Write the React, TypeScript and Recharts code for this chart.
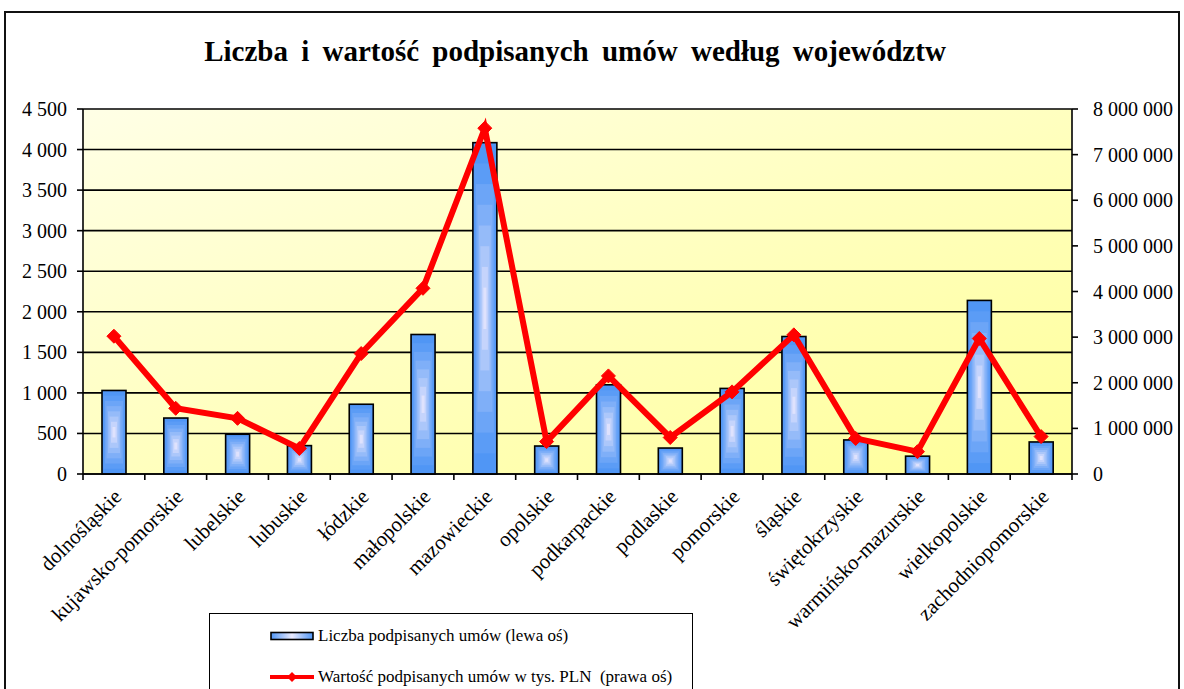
import React from 'react';
import { ComposedChart, Bar, Line, XAxis, YAxis, CartesianGrid } from 'recharts';

const categories = [
  'dolnośląskie', 'kujawsko-pomorskie', 'lubelskie', 'lubuskie', 'łódzkie', 'małopolskie',
  'mazowieckie', 'opolskie', 'podkarpackie', 'podlaskie', 'pomorskie', 'śląskie',
  'świętokrzyskie', 'warmińsko-mazurskie', 'wielkopolskie', 'zachodniopomorskie',
];
const contractCounts = [1030, 690, 490, 350, 860, 1720, 4085, 345, 1100, 320, 1055, 1695, 420, 220, 2140, 395];
const contractValues = [3020000, 1440000, 1220000, 560000, 2640000, 4070000, 7580000, 710000, 2150000, 800000, 1800000, 3050000, 780000, 490000, 2970000, 820000];
const leftTicks = [0, 500, 1000, 1500, 2000, 2500, 3000, 3500, 4000, 4500];
const rightTicks = [0, 1000000, 2000000, 3000000, 4000000, 5000000, 6000000, 7000000, 8000000];

const title = 'Liczba i wartość podpisanych umów według województw';
const legendCount = 'Liczba podpisanych umów (lewa oś)';
const legendValue = 'Wartość podpisanych umów w tys. PLN  (prawa oś)';

const data = categories.map((name, i) => ({ name, count: contractCounts[i], value: contractValues[i] }));

const FONT = 'Liberation Serif, Times New Roman, serif';

const fmt = (v: number) => String(v).replace(/\B(?=(\d{3})+(?!\d))/g, ' ');

const OUTER = [80, 150, 245];
const INNER = [250, 240, 255];
const STEPS = 8;

const GradientBar = (props: any) => {
  const { x, y, width, height } = props;
  if (!(height > 0)) return null;
  const rects = [];
  for (let i = 0; i < STEPS; i++) {
    const t = i / STEPS;
    const c = OUTER.map((o, k) => Math.round(o + (INNER[k] - o) * Math.pow(t, 1.3)));
    const ix = (width / 2) * t;
    const iy = (height / 2) * t;
    rects.push(
      <rect key={i} x={x + ix} y={y + iy} width={width - 2 * ix} height={height - 2 * iy}
        fill={`rgb(${c[0]},${c[1]},${c[2]})`} />
    );
  }
  return (
    <g>
      {rects}
      <rect x={x} y={y} width={width} height={height} fill="none" stroke="#000" strokeWidth={1.6} />
    </g>
  );
};

const Diamond = (props: any) => {
  const { cx, cy } = props;
  if (cx == null || cy == null) return null;
  const s = 7;
  return <polygon points={`${cx},${cy - s} ${cx + s},${cy} ${cx},${cy + s} ${cx - s},${cy}`} fill="#FF0000" stroke="#FF0000" strokeWidth={1} />;
};

const CategoryTick = (props: any) => {
  const { x, y, payload, index, visibleTicksCount } = props;
  const off = payload.offset || 0;
  const ax = x + 9;
  const ay = y + 24;
  return (
    <g>
      <line x1={x - off} y1={y} x2={x - off} y2={y + 6} stroke="#000" strokeWidth={1.6} />
      {index === visibleTicksCount - 1 && (
        <line x1={x + off} y1={y} x2={x + off} y2={y + 6} stroke="#000" strokeWidth={1.6} />
      )}
      <text x={ax} y={ay} transform={`rotate(-45, ${ax}, ${ay})`} textAnchor="end"
        style={{ fontFamily: FONT, fontSize: 21 }} fill="#000">{payload.value}</text>
    </g>
  );
};

const ValueTick = (props: any) => {
  const { x, y, payload, textAnchor } = props;
  return (
    <text x={x} y={y} dy="0.35em" textAnchor={textAnchor} fill="#000"
      style={{ fontFamily: FONT, fontSize: 20 }}>{fmt(payload.value)}</text>
  );
};

export default function App() {
  return (
    <div style={{ position: 'absolute', left: 0, top: 0, width: 1184, height: 689, overflow: 'hidden', background: '#fff', fontFamily: FONT }}>
      <div style={{ position: 'absolute', left: 4, top: 11, width: 1176, height: 720, border: '2px solid #111', boxSizing: 'border-box' }} />
      <div style={{ position: 'absolute', left: 0, top: 35, width: 1150, textAlign: 'center', fontSize: 29, fontWeight: 'bold', wordSpacing: 6, color: '#000' }}>
        {title}
      </div>
      <div style={{ position: 'absolute', left: 0, top: 0 }}>
        <ComposedChart width={1184} height={689} data={data} margin={{ top: 109, right: 0, bottom: 65, left: 0 }} barSize={24}
          style={{ fontFamily: FONT }}>
          <defs>
            <linearGradient id="plotBg" x1="0" y1="0" x2="1" y2="1">
              <stop offset="0%" stopColor="#FFFFE6" />
              <stop offset="100%" stopColor="#FFFF99" />
            </linearGradient>
          </defs>
          <CartesianGrid yAxisId="left" vertical={false} stroke="#000" strokeWidth={1.6} fill="url(#plotBg)" fillOpacity={1} />
          <XAxis dataKey="name" type="category" xAxisId="cat" height={150} interval={0}
            tickSize={0} tickMargin={0} axisLine={{ stroke: '#000', strokeWidth: 1.6 }} tickLine={false}
            tick={<CategoryTick />} />
          <YAxis yAxisId="left" orientation="left" width={83} domain={[0, 4500]} ticks={leftTicks}
            interval={0} tickSize={6} tickMargin={10}
            axisLine={{ stroke: '#000', strokeWidth: 1.6 }} tickLine={{ stroke: '#000', strokeWidth: 1.6 }}
            tick={<ValueTick />} />
          <YAxis yAxisId="right" orientation="right" width={112} domain={[0, 8000000]} ticks={rightTicks}
            interval={0} tickSize={6} tickMargin={15}
            axisLine={{ stroke: '#000', strokeWidth: 1.6 }} tickLine={{ stroke: '#000', strokeWidth: 1.6 }}
            tick={<ValueTick />} />
          <Bar dataKey="count" xAxisId="cat" yAxisId="left" isAnimationActive={false} shape={<GradientBar />} />
          <Line dataKey="value" xAxisId="cat" yAxisId="right" type="linear" stroke="#FF0000" strokeWidth={6}
            dot={<Diamond />} activeDot={false} isAnimationActive={false} />
        </ComposedChart>
      </div>
      <div style={{ position: 'absolute', left: 209, top: 613, width: 484, height: 120, border: '1.5px solid #000', background: '#fff', boxSizing: 'border-box' }}>
        <div style={{ position: 'absolute', left: 60, top: 12, display: 'flex', alignItems: 'center' }}>
          <svg width={44} height={10} style={{ marginRight: 4 }}>
            <defs>
              <linearGradient id="legBar" x1="0" y1="0" x2="1" y2="0">
                <stop offset="0%" stopColor="rgb(80,150,245)" />
                <stop offset="50%" stopColor="rgb(235,235,255)" />
                <stop offset="100%" stopColor="rgb(80,150,245)" />
              </linearGradient>
            </defs>
            <rect x={1} y={1.5} width={42} height={7} fill="url(#legBar)" stroke="#000" strokeWidth={1.6} />
          </svg>
          <span style={{ fontSize: 17, whiteSpace: 'pre' }}>{legendCount}</span>
        </div>
        <div style={{ position: 'absolute', left: 60, top: 53, display: 'flex', alignItems: 'center' }}>
          <svg width={44} height={12} style={{ marginRight: 4 }}>
            <line x1={0} y1={6} x2={44} y2={6} stroke="#FF0000" strokeWidth={4} />
            <polygon points="22,1 27,6 22,11 17,6" fill="#FF0000" />
          </svg>
          <span style={{ fontSize: 17, whiteSpace: 'pre' }}>{legendValue}</span>
        </div>
      </div>
    </div>
  );
}
